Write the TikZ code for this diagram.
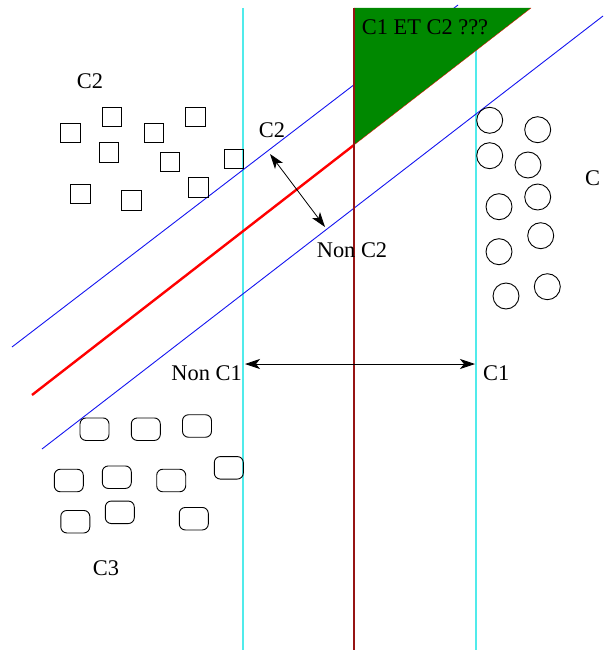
\documentclass[tikz,border=0pt]{standalone}
\usepackage{fontspec}
\setmainfont{Liberation Serif}
\usetikzlibrary{arrows.meta}
\definecolor{borderred}{RGB}{150,20,20}
\definecolor{zonegreen}{RGB}{0,136,0}
\definecolor{marginblue}{RGB}{20,20,240}
\definecolor{limitcyan}{RGB}{80,235,235}
\begin{document}
\begin{tikzpicture}[x=1pt, y=-1pt,
				lbl/.style={font=\fontsize{22.4}{26}\selectfont, inner sep=0pt},
				sq/.style={draw, line width=0.9pt, minimum size=19.5pt, inner sep=0pt},
				rnd/.style={draw, line width=0.9pt, rounded corners=6pt, minimum width=29pt, minimum height=22.5pt, inner sep=0pt},
				pt/.style={draw, circle, line width=0.9pt, minimum size=26pt, inner sep=0pt},
				margin/.style={marginblue, line width=0.9pt},
				limit/.style={limitcyan, line width=1.3pt},
				gap/.style={{Stealth[length=15pt,width=10pt,inset=4pt]}-{Stealth[length=15pt,width=10pt,inset=4pt]}, line width=0.8pt}
				]
				\useasboundingbox (0,0) rectangle (603,650);
				% limits of C1
				\draw[limit] (243,8) -- (243,650);
				\draw[limit] (476,8) -- (476,650);
				% margins of C2
				\draw[margin] (12,347) -- (458,5);
				\draw[margin] (42,449) -- (603,16);
				% doubtful zone
				\fill[zonegreen] (354,145) -- (354,8) -- (531,8) -- cycle;
				\draw[red, line width=0.3pt] (354,145) -- (531,8);
				\draw[red, line width=2.4pt] (32,395) -- (354,145);
				\draw[borderred, line width=2.7pt] (354,8) -- (354,650);
				% labels
				\node[lbl] (both) at (425,27) {C1 ET C2 ???};
				\node[lbl] (lc2) at (90,81.5) {C2};
				\node[lbl] (inc2) at (272,130) {C2};
				\node[lbl] (nonc2) at (352,250.5) {Non C2};
				\node[lbl, anchor=east] (nonc1) at (242,373) {Non C1};
				\node[lbl, anchor=west] (inc1) at (483,373) {C1};
				\node[lbl] (lc3) at (106,568) {C3};
				\node[lbl] (lc1) at (592.5,178.5) {C};
				% arrows
				\coordinate (a1) at (245,364);
				\coordinate (b1) at (475,364);
				\coordinate (a2) at (270,154);
				\coordinate (b2) at (325,227);
				\draw[gap] (a1) -- (b1);
				\draw[gap] (a2) -- (b2);
				% class C2
				\foreach \x/\y [count=\i] in {70.5/133, 112/117, 153.7/133, 195.2/117, 109/152.3,
					169.7/161.7, 233.7/159, 80.2/194, 131.2/200.2, 198.5/187.3}
					\node[sq] (sq\i) at (\x,\y) {};
				% class C1
				\foreach \x/\y [count=\i] in {489.7/120.3, 537.7/129.7, 489.7/155.7, 528/165, 537.7/197,
					499/206.7, 540.7/235.7, 499/251.7, 547.3/286.7, 506/296}
					\node[pt] (pt\i) at (\x,\y) {};
				% class C3
				\foreach \x/\y [count=\i] in {94.5/429.2, 145.8/429.2, 197/426, 228.8/467.8, 68.8/480.5,
					116.8/477.2, 171.2/480.5, 75.3/521.7, 119.8/512.3, 193.8/518.7}
					\node[rnd] (rd\i) at (\x,\y) {};
			\end{tikzpicture}
\end{document}
